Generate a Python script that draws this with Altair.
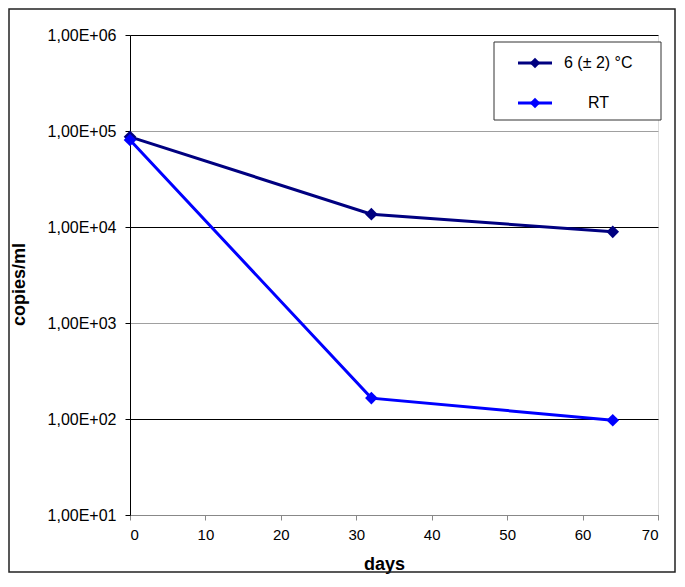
import altair as alt
import pandas as pd

days = [0, 32, 64]
series_names = ["6 (± 2) °C", "RT"]
cold_values = [87000, 13600, 8900]
rt_values = [80500, 165, 97]
colors = ["#000080", "#0000FF"]
x_ticks = [0, 10, 20, 30, 40, 50, 60, 70]
y_ticks = [10, 100, 1000, 10000, 100000, 1000000]

rows = []
for d, v in zip(days, cold_values):
    rows.append({"days": d, "value": v, "series": series_names[0]})
for d, v in zip(days, rt_values):
    rows.append({"days": d, "value": v, "series": series_names[1]})
df = pd.DataFrame(rows)

FONT = "Liberation Sans"
W, H = 528, 480

x_enc = alt.X("days:Q", scale=alt.Scale(domain=[0, 70], nice=False),
              axis=alt.Axis(values=x_ticks, title="days", grid=False,
                            domainColor="#888888", tickColor="#888888",
                            tickSize=5, labelFontSize=15, labelColor="black",
                            labelFont=FONT, labelPadding=7,
                            titleFont=FONT, titleFontSize=18, titleFontWeight="bold",
                            titleColor="black", titleX=254, titleY=54,
                            titleBaseline="alphabetic", titleAlign="center"))
y_enc = alt.Y("value:Q", scale=alt.Scale(type="log", domain=[10, 1000000], nice=False),
              axis=alt.Axis(values=y_ticks, title="copies/ml",
                            labelExpr="'1,00E+0' + round(log(datum.value)/LN10)",
                            grid=True,
                            gridColor={"condition": {"test": "datum.value == 100000 || datum.value == 1000",
                                                     "value": "#a0a0a0"}, "value": "#000000"},
                            gridOpacity=1, gridWidth=1,
                            domainColor="black", tickColor="black", tickSize=5,
                            labelFontSize=16, labelColor="black", labelFont=FONT,
                            labelPadding=9,
                            titleFont=FONT, titleFontSize=18, titleFontWeight="bold",
                            titleColor="black", titleX=-111, titleY=249,
                            titleAngle=270, titleBaseline="middle", titleAlign="center"))
color_enc = alt.Color("series:N", scale=alt.Scale(domain=series_names, range=colors), legend=None)

base = alt.Chart(df)
lines = base.mark_line(strokeWidth=3).encode(x=x_enc, y=y_enc, color=color_enc)
points = base.mark_point(shape="diamond", filled=True, size=160, opacity=1).encode(
    x="days:Q", y="value:Q", color=color_enc)

# outer frame
frame = alt.Chart(pd.DataFrame({"a": [0]})).mark_rect(
    fill=None, stroke="#222222", strokeWidth=1.5).encode(
    x=alt.value(-121), x2=alt.value(545), y=alt.value(-26), y2=alt.value(537))

# manual legend
leg_df = pd.DataFrame({"series": series_names, "ly": [28, 68], "tx": [434, 458]})
leg_box = alt.Chart(pd.DataFrame({"a": [0]})).mark_rect(
    fill="white", stroke="#333333", strokeWidth=1).encode(
    x=alt.value(364), x2=alt.value(531), y=alt.value(7), y2=alt.value(85))
leg_base = alt.Chart(leg_df)
leg_lines = leg_base.mark_rule(strokeWidth=3).encode(
    x=alt.value(388), x2=alt.value(422), y=alt.Y("ly:Q", scale=None), color=color_enc)
leg_pts = leg_base.mark_point(shape="diamond", filled=True, size=110, opacity=1).encode(
    x=alt.value(405), y=alt.Y("ly:Q", scale=None), color=color_enc)
leg_text = leg_base.mark_text(align="left", baseline="middle", fontSize=16, font=FONT,
                              color="black").encode(
    x=alt.X("tx:Q", scale=None), y=alt.Y("ly:Q", scale=None), text="series:N")

chart = alt.layer(frame, lines, points, leg_box, leg_lines, leg_pts, leg_text).properties(
    width=W, height=H,
    autosize=alt.AutoSizeParams(type="none"),
    padding={"left": 122, "top": 27, "right": 19, "bottom": 59},
).configure_view(stroke=None).configure(background="white")

chart.save("out.html", embed_options={"renderer": "svg", "actions": False})
